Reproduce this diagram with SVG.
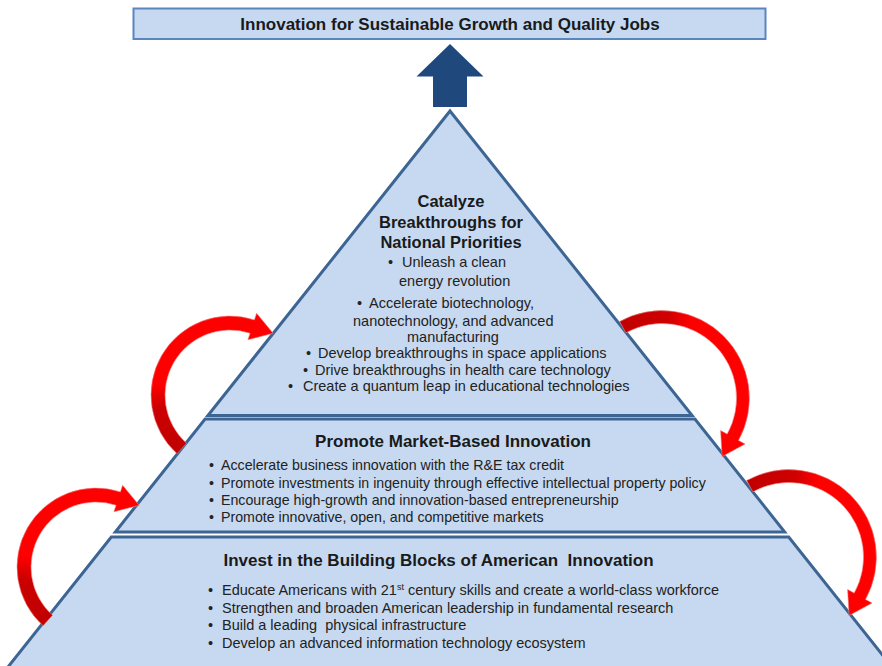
<svg xmlns="http://www.w3.org/2000/svg" width="882" height="666" viewBox="0 0 882 666">
  <style>
    .tier { fill: #c6d9f0; stroke: #3d6594; stroke-width: 3; stroke-linejoin: miter; }
    .ttl { font-family: "Liberation Sans", Arial, sans-serif; font-weight: bold; font-size: 17px; fill: #1a1a1a; text-anchor: middle; }
    .tt2 { font-family: "Liberation Sans", Arial, sans-serif; font-weight: bold; font-size: 16.5px; fill: #1a1a1a; text-anchor: middle; }
    .b { font-family: "Liberation Sans", Arial, sans-serif; font-size: 14.5px; fill: #222; }
    .bm { font-family: "Liberation Sans", Arial, sans-serif; font-size: 14.2px; fill: #222; }
    .red { stroke: #f08080; stroke-width: 0.6; }
  </style>
  <defs>
    <linearGradient id="gL" x1="0" y1="1" x2="0" y2="0">
      <stop offset="0" stop-color="#c00000"/>
      <stop offset="0.33" stop-color="#cc0000"/>
      <stop offset="0.5" stop-color="#ff0000"/>
      <stop offset="1" stop-color="#ff0000"/>
    </linearGradient>
    <linearGradient id="gR" x1="0" y1="0" x2="1" y2="0">
      <stop offset="0" stop-color="#c00000"/>
      <stop offset="0.38" stop-color="#d00000"/>
      <stop offset="0.55" stop-color="#ff0000"/>
      <stop offset="1" stop-color="#ff0000"/>
    </linearGradient>
  </defs>

  <g id="banner">
    <rect x="133.5" y="8.5" width="632" height="30.5" fill="#c6d9f1" stroke="#5a86c0" stroke-width="2"/>
    <text class="ttl" x="450" y="30">Innovation for Sustainable Growth and Quality Jobs</text>
  </g>

  <g id="tier-bottom">
    <polygon class="tier" points="111.3,537 788.7,537 896,672 4,672"/>
    <text class="ttl" x="438.5" y="566" xml:space="preserve">Invest in the Building Blocks of American  Innovation</text>
    <text class="b" x="208" y="595">•</text>
    <text class="b" x="222" y="595">Educate Americans with 21<tspan font-size="9" dy="-5">st</tspan><tspan dy="5"> century skills and create a world-class workforce</tspan></text>
    <text class="b" x="208" y="613">•</text>
    <text class="b" x="222" y="613">Strengthen and broaden American leadership in fundamental research</text>
    <text class="b" x="208" y="630">•</text>
    <text class="b" x="222" y="630" xml:space="preserve">Build a leading  physical infrastructure</text>
    <text class="b" x="208" y="648">•</text>
    <text class="b" x="222" y="648">Develop an advanced information technology ecosystem</text>
  </g>

  <g id="tier-middle">
    <polygon class="tier" points="205.1,419 694.9,419 784.7,532 115.3,532"/>
    <text class="ttl" x="453" y="447">Promote Market-Based Innovation</text>
    <text class="bm" x="209" y="470">•</text>
    <text class="bm" x="221" y="470">Accelerate business innovation with the R&amp;E tax credit</text>
    <text class="bm" x="209" y="487.5">•</text>
    <text class="bm" x="221" y="487.5">Promote investments in ingenuity through effective intellectual property policy</text>
    <text class="bm" x="209" y="505">•</text>
    <text class="bm" x="221" y="505">Encourage high-growth and innovation-based entrepreneurship</text>
    <text class="bm" x="209" y="522">•</text>
    <text class="bm" x="221" y="522">Promote innovative, open, and competitive markets</text>
  </g>

  <g id="tier-top">
    <polygon class="tier" points="450,111 692.1,415.5 207.9,415.5"/>
    <text class="tt2" x="451" y="207">Catalyze</text>
    <text class="tt2" x="451" y="228">Breakthroughs for</text>
    <text class="tt2" x="451" y="248">National Priorities</text>
    <text class="b" x="388" y="267">•</text>
    <text class="b" x="402" y="267">Unleash a clean</text>
    <text class="b" x="399" y="286">energy revolution</text>
    <text class="b" x="357" y="308">•</text>
    <text class="b" x="369" y="308">Accelerate biotechnology,</text>
    <text class="b" x="353" y="326">nanotechnology, and advanced</text>
    <text class="b" x="407" y="342">manufacturing</text>
    <text class="b" x="306" y="358">•</text>
    <text class="b" x="318" y="358">Develop breakthroughs in space applications</text>
    <text class="b" x="303" y="375">•</text>
    <text class="b" x="315" y="375">Drive breakthroughs in health care technology</text>
    <text class="b" x="288" y="391">•</text>
    <text class="b" x="303" y="391">Create a quantum leap in educational technologies</text>
  </g>

  <g id="connectors">
    <polygon id="up-arrow" points="450,44 483.5,76.5 467,76.5 467,107 433,107 433,76.5 416.5,76.5" fill="#1f497d"/>
    <path id="arrow-left-upper" class="red" fill="url(#gL)" d="M 177.1 453.7 A 79 79 0 0 1 254.4 319.9 L 256.6 313.2 L 273.1 333.3 L 247.9 339.8 L 250.1 333.2 A 65 65 0 0 0 186.5 443.3 Z"/>
    <path id="arrow-left-lower" class="red" fill="url(#gL)" transform="translate(-134,172)" d="M 177.1 453.7 A 79 79 0 0 1 254.4 319.9 L 256.6 313.2 L 273.1 333.3 L 247.9 339.8 L 250.1 333.2 A 65 65 0 0 0 186.5 443.3 Z"/>
    <path id="arrow-right-upper" class="red" fill="url(#gR)" d="M 619.6 321.5 A 87.5 87.5 0 0 1 738.5 440.4 L 745.1 444.1 L 722.1 456.5 L 720.6 430.5 L 727.2 434.1 A 74.5 74.5 0 0 0 625.9 332.8 Z"/>
    <path id="arrow-right-lower" class="red" fill="url(#gR)" transform="translate(127,159)" d="M 619.6 321.5 A 87.5 87.5 0 0 1 738.5 440.4 L 745.1 444.1 L 722.1 456.5 L 720.6 430.5 L 727.2 434.1 A 74.5 74.5 0 0 0 625.9 332.8 Z"/>
  </g>
</svg>
